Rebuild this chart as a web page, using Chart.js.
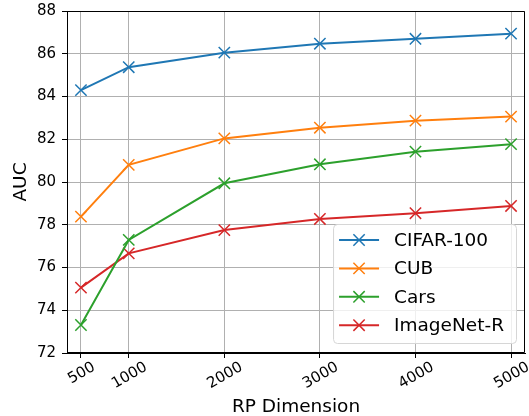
<!DOCTYPE html>
<html lang="en">
<head>
    <meta charset="UTF-8">
    <title>AUC vs RP Dimension</title>
    <script src="https://cdn.jsdelivr.net/npm/chart.js"></script>
    <style>
        body { margin: 0; background: #fff; }
        #wrap { width: 529px; height: 416px; position: relative; }
    </style>
</head>
<body>
    <div id="wrap"><canvas id="grafico"></canvas></div>
    <script>
    const dims = [500, 1000, 2000, 3000, 4000, 5000];
    const yTicks = [72, 74, 76, 78, 80, 82, 84, 86, 88];
    const seriesNames = ["CIFAR-100", "CUB", "Cars", "ImageNet-R"];
    const cifar100 = [84.30, 85.37, 86.05, 86.47, 86.70, 86.94];
    const cub = [78.38, 80.80, 82.04, 82.54, 82.87, 83.06];
    const cars = [73.31, 77.29, 79.94, 80.83, 81.42, 81.77];
    const imagenetR = [75.06, 76.66, 77.75, 78.27, 78.54, 78.88];
    const colores = ["#1f77b4", "#ff7f0e", "#2ca02c", "#d62728"];

    const FONT = "'DejaVu Sans', sans-serif";

    function serie(i, valores) {
        return {
            label: seriesNames[i],
            data: dims.map((d, k) => ({ x: d, y: valores[k] })),
            borderColor: colores[i],
            backgroundColor: colores[i],
            borderWidth: 2,
            pointStyle: "crossRot",
            pointRadius: 8,
            pointHoverRadius: 8,
            pointBorderWidth: 1.5,
            tension: 0
        };
    }

    // marco, etiquetas del eje x, titulos y leyenda
    const extras = {
        id: "extras",
        afterDatasetsDraw(chart) {
            const ctx = chart.ctx;
            const a = chart.chartArea;
            const xs = chart.scales.x;
            ctx.save();
            ctx.strokeStyle = "#000";
            ctx.lineWidth = 1;
            ctx.beginPath();
            ctx.rect(a.left + 0.5, a.top + 0.5, a.right - a.left - 1, a.bottom - a.top - 1);
            ctx.stroke();

            // etiquetas del eje x rotadas 30 grados, centradas en la marca
            ctx.fillStyle = "#000";
            ctx.font = "15px " + FONT;
            ctx.textAlign = "center";
            ctx.textBaseline = "alphabetic";
            xs.ticks.forEach(t => {
                const label = String(t.value);
                const w = ctx.measureText(label).width;
                const px = xs.getPixelForValue(t.value);
                const cy = a.bottom + 7 + (w * 0.5 + 11 * 0.866) / 2;
                ctx.save();
                ctx.translate(px, cy);
                ctx.rotate(-Math.PI / 6);
                ctx.fillText(label, 0, 15 * 0.365);
                ctx.restore();
            });

            // titulos de los ejes
            ctx.font = "18.5px " + FONT;
            ctx.textAlign = "center";
            ctx.fillText("RP Dimension", (a.left + a.right) / 2, 412);
            ctx.save();
            ctx.translate(19, (a.top + a.bottom) / 2);
            ctx.rotate(-Math.PI / 2);
            ctx.fillText("AUC", 0, 6.75);
            ctx.restore();

            // leyenda
            ctx.font = "18.5px " + FONT;
            let maxW = 0;
            seriesNames.forEach(n => { maxW = Math.max(maxW, ctx.measureText(n).width); });
            const boxW = 6 + 40 + 15 + maxW + 12;
            const boxH = 119;
            const bx = a.right - 9 - boxW;
            const by = a.bottom - 10 - boxH;
            ctx.beginPath();
            if (ctx.roundRect) ctx.roundRect(bx + 0.5, by + 0.5, boxW, boxH, 4);
            else ctx.rect(bx + 0.5, by + 0.5, boxW, boxH);
            ctx.fillStyle = "rgba(255,255,255,0.8)";
            ctx.fill();
            ctx.strokeStyle = "#d6d6d6";
            ctx.lineWidth = 1;
            ctx.stroke();
            seriesNames.forEach((n, i) => {
                const ry = by + 16 + i * 28.4;
                const lx = bx + 6;
                ctx.strokeStyle = colores[i];
                ctx.lineWidth = 2;
                ctx.beginPath();
                ctx.moveTo(lx, ry);
                ctx.lineTo(lx + 40, ry);
                ctx.stroke();
                const mx = lx + 20, r = 8 * Math.SQRT1_2;
                ctx.lineWidth = 1.5;
                ctx.beginPath();
                ctx.moveTo(mx - r, ry - r); ctx.lineTo(mx + r, ry + r);
                ctx.moveTo(mx + r, ry - r); ctx.lineTo(mx - r, ry + r);
                ctx.stroke();
                ctx.fillStyle = "#000";
                ctx.textAlign = "left";
                ctx.textBaseline = "middle";
                ctx.fillText(n, lx + 55, ry + 1);
            });
            ctx.restore();
        }
    };

    new Chart(document.getElementById("grafico"), {
        type: "line",
        data: {
            datasets: [serie(0, cifar100), serie(1, cub), serie(2, cars), serie(3, imagenetR)]
        },
        options: {
            responsive: true,
            maintainAspectRatio: false,
            animation: false,
            layout: { autoPadding: false, padding: { top: 11, right: 4, left: 0, bottom: 0 } },
            plugins: { legend: { display: false }, tooltip: { enabled: false } },
            scales: {
                x: {
                    type: "linear",
                    min: 354,
                    max: 5146,
                    afterBuildTicks: s => { s.ticks = dims.map(v => ({ value: v })); },
                    afterFit: s => { s.height = 63; },
                    ticks: { display: false },
                    grid: { color: "#b0b0b0", lineWidth: 1, drawTicks: true, tickLength: 5, tickColor: "#000", tickWidth: 1 },
                    border: { color: "#000", width: 1 }
                },
                y: {
                    min: 72,
                    max: 88,
                    afterBuildTicks: s => { s.ticks = yTicks.map(v => ({ value: v })); },
                    afterFit: s => { s.width = 67; },
                    ticks: { color: "#000", padding: 6, font: { family: FONT, size: 15, lineHeight: 0.6 } },
                    grid: { color: "#b0b0b0", lineWidth: 1, drawTicks: true, tickLength: 5, tickColor: "#000", tickWidth: 1 },
                    border: { color: "#000", width: 1 }
                }
            }
        },
        plugins: [extras]
    });
    </script>
</body>
</html>
